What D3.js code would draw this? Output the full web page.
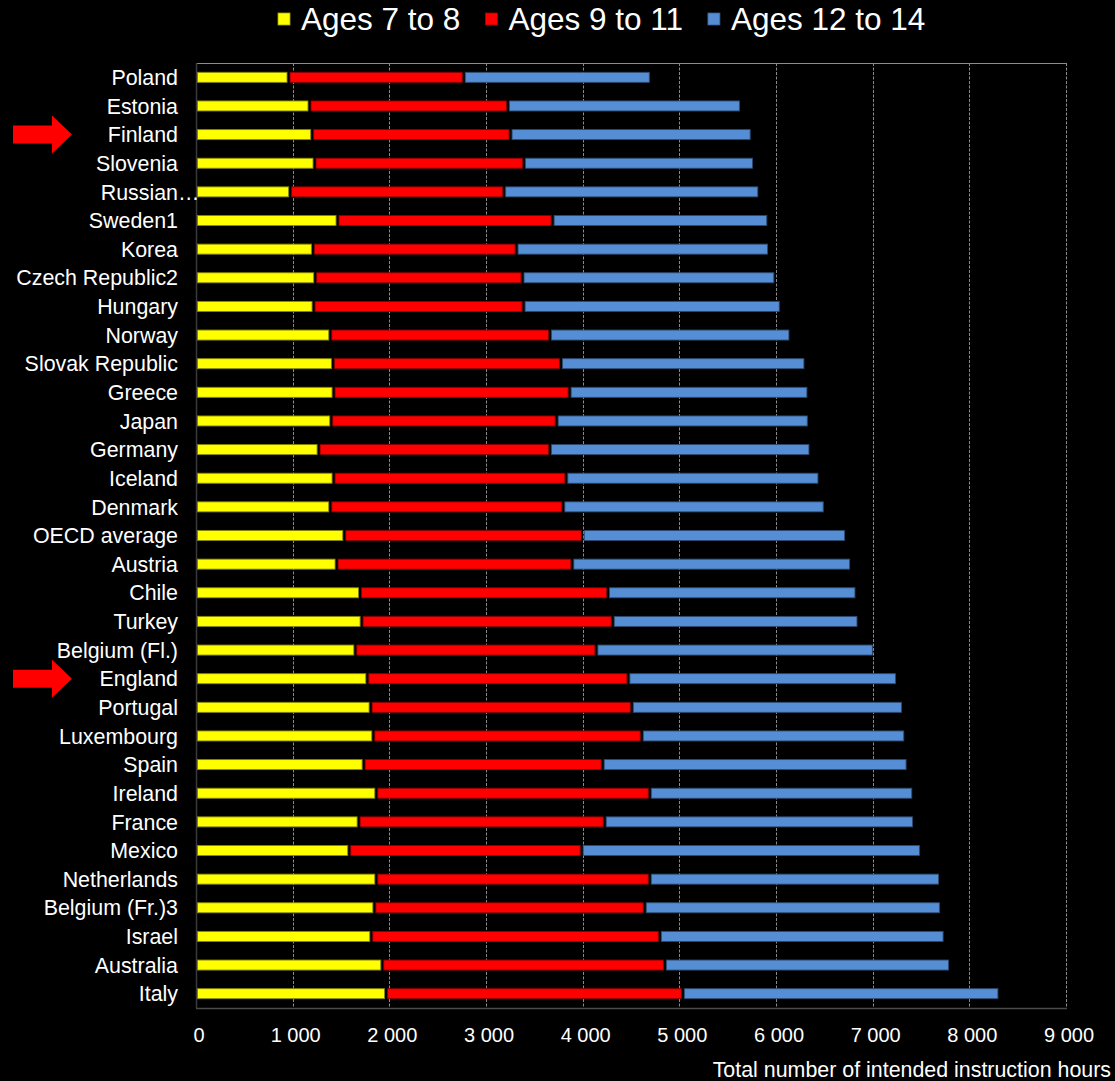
<!DOCTYPE html>
<html>
<head>
<meta charset="utf-8">
<script src="https://cdn.jsdelivr.net/npm/d3@7"></script>
<style>
  html, body { margin: 0; padding: 0; background: #000; }
  svg { display: block; }
  text { font-family: "Liberation Sans", Arial, sans-serif; fill: #fff; }
</style>
</head>
<body>
<svg id="chart" width="1115" height="1081"></svg>
<script>
const categories = ["Poland","Estonia","Finland","Slovenia","Russian…","Sweden1","Korea","Czech Republic2","Hungary","Norway","Slovak Republic","Greece","Japan","Germany","Iceland","Denmark","OECD average","Austria","Chile","Turkey","Belgium (Fl.)","England","Portugal","Luxembourg","Spain","Ireland","France","Mexico","Netherlands","Belgium (Fr.)3","Israel","Australia","Italy"];
const ages7to8 = [957,1174,1202,1226,974,1464,1209,1233,1216,1389,1416,1423,1399,1268,1423,1389,1534,1454,1696,1713,1648,1772,1806,1834,1734,1865,1682,1585,1865,1845,1813,1927,1966];
const ages9to11 = [1813,2052,2052,2166,2214,2225,2107,2145,2173,2272,2359,2442,2332,2393,2408,2411,2466,2439,2566,2598,2494,2701,2702,2777,2473,2829,2546,2405,2829,2797,2985,2923,3070];
const ages12to14 = [1935,2411,2494,2380,2639,2231,2611,2615,2660,2488,2529,2470,2608,2695,2618,2704,2725,2884,2570,2542,2870,2778,2805,2726,3154,2726,3199,3509,3002,3064,2946,2950,3275];
const seriesNames = ["Ages 7 to 8","Ages 9 to 11","Ages 12 to 14"];
const seriesColors = ["#FFFF00","#FF0000","#558ED5"];
const xTicks = [0,1000,2000,3000,4000,5000,6000,7000,8000,9000];
const highlighted = ["Finland","England"];
const axisTitle = "Total number of intended instruction hours";

(function () {
const svg = d3.select("#chart");
const pLeft = 196, pRight = 1066, pTop = 63, pBottom = 1008;

const x = d3.scaleLinear().domain([0, 9000]).range([pLeft, pRight]);
const y = d3.scaleBand().domain(categories).range([pTop, pBottom]).paddingInner(0.65).paddingOuter(0.325);

const stackData = categories.map((c, i) => ({ c, s0: ages7to8[i], s1: ages9to11[i], s2: ages12to14[i] }));
const stacked = d3.stack().keys(["s0","s1","s2"])(stackData);

// top border
svg.append("line").attr("x1", pLeft).attr("x2", pRight + 1).attr("y1", pTop + 0.5).attr("y2", pTop + 0.5)
  .attr("stroke", "#8c8c8c").attr("stroke-width", 1);

// gridlines
svg.append("g").selectAll("line").data(xTicks.filter(t => t > 0)).join("line")
  .attr("x1", d => Math.round(x(d)) + 0.5).attr("x2", d => Math.round(x(d)) + 0.5)
  .attr("y1", pTop).attr("y2", pBottom)
  .attr("stroke", "#8a8a8a").attr("stroke-width", 1).attr("stroke-dasharray", "3,1.5");

// left axis line
svg.append("line").attr("x1", pLeft + 0.5).attr("x2", pLeft + 0.5).attr("y1", pTop).attr("y2", pBottom)
  .attr("stroke", "#3a3a3a").attr("stroke-width", 1.5);

// bars
const g = svg.append("g");
stacked.forEach((layer, si) => {
  const col = seriesColors[si];
  g.append("g").selectAll("rect").data(layer).join("rect")
    .attr("x", d => x(d[0]) + 1.5)
    .attr("y", d => y(d.data.c))
    .attr("width", d => Math.max(0, x(d[1]) - x(d[0]) - 3))
    .attr("height", y.bandwidth())
    .attr("fill", col)
    .attr("stroke", d3.color(col).darker(1.8))
    .attr("stroke-width", 0.9);
});

// bottom axis line
svg.append("line").attr("x1", pLeft).attr("x2", pRight + 1).attr("y1", pBottom + 0.5).attr("y2", pBottom + 0.5)
  .attr("stroke", "#4a4a4a").attr("stroke-width", 1.5);

// x tick labels
svg.append("g").selectAll("text").data(xTicks).join("text")
  .attr("x", d => x(d) + 3).attr("y", 1042)
  .attr("text-anchor", "middle").attr("font-size", 20)
  .text(d => d3.format(",")(d).replace(/,/g, " "));

// axis title
svg.append("text").attr("x", 1111).attr("y", 1077).attr("text-anchor", "end")
  .attr("font-size", 21.4).text(axisTitle);

// y labels
svg.append("g").selectAll("text").data(categories).join("text")
  .attr("x", 178).attr("y", d => y(d) + y.bandwidth() / 2)
  .attr("dy", "0.36em").attr("text-anchor", "end").attr("font-size", 21.4)
  .text(d => d)
  .each(function(d) {
    if (d.endsWith("…")) {
      const tmp = svg.append("text").attr("font-size", 21.4).text("…");
      const w = tmp.node().getComputedTextLength();
      tmp.remove();
      d3.select(this).attr("x", 178 + w);
    }
  });

// arrows
svg.append("g").selectAll("path").data(highlighted).join("path")
  .attr("transform", d => `translate(0,${y(d) + y.bandwidth() / 2})`)
  .attr("d", "M13,-9 L52,-9 L52,-19 L72,0 L52,19 L52,9 L13,9 Z")
  .attr("fill", "#FF0000");

// legend
const leg = svg.append("g");
let lx = 278;
seriesNames.forEach((name, i) => {
  leg.append("rect").attr("x", lx).attr("y", 13).attr("width", 12).attr("height", 12)
    .attr("fill", seriesColors[i]).attr("stroke", d3.color(seriesColors[i]).darker(1.2)).attr("stroke-width", 0.8);
  const t = leg.append("text").attr("x", lx + 23).attr("y", 30).attr("font-size", 31.5).text(name);
  lx = lx + 23 + t.node().getComputedTextLength() + 25;
});
})();
</script>
</body>
</html>
